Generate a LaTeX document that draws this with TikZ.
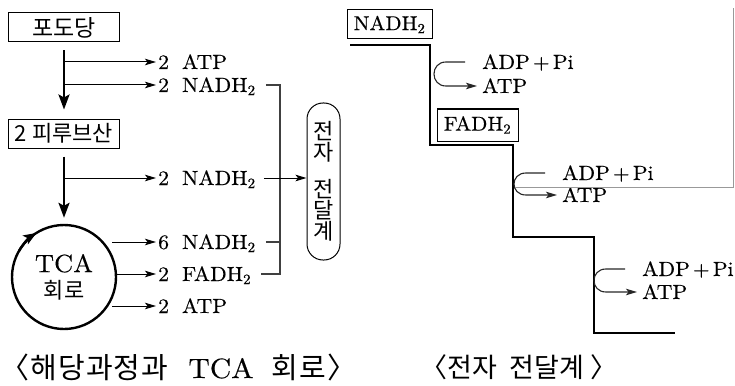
\documentclass[tikz,border=0pt]{standalone}
\usepackage{fontspec}
\setmainfont{lmroman10-regular.otf}[FakeBold=0.3, FakeStretch=1.06]
\newfontfamily\cjk{Noto Sans CJK KR}
\newfontfamily\cjkA[LetterSpace=4]{Noto Sans CJK KR}
\usetikzlibrary{arrows.meta,calc}
\begin{document}
\begin{tikzpicture}[x=1pt,y=-1pt,
  kbox/.style={draw, line width=1pt, inner sep=0, minimum width=111pt, minimum height=29pt},
  rbox/.style={draw, line width=1pt, inner sep=0, font=\fontsize{20}{20}\selectfont},
  lab/.style={inner sep=0, anchor=west, font=\fontsize{20.5}{20.5}\selectfont, text height=14pt, text depth=0pt},
  rlab/.style={inner sep=0, anchor=west, font=\fontsize{20.5}{20.5}\selectfont, text height=14pt, text depth=0pt},
  trunk/.style={line width=2.4pt, -{Stealth[length=15pt,width=11pt,inset=3pt]}},
  branch/.style={line width=1pt, -{Stealth[length=11pt,width=6.5pt,inset=2.5pt]}},
  brk/.style={line width=1.1pt, draw=black!75},
  stair/.style={line width=2.6pt},
  hook/.style={line width=1.1pt, draw=black!85, -{Stealth[length=11pt,width=6.5pt,inset=2.5pt]}},
  frame/.style={draw=black!40, line width=0.9pt}]
\useasboundingbox (0,0) rectangle (735,385);

% left: glycolysis and TCA
\node[kbox, font=\cjk\fontsize{23}{23}\selectfont] (glu) at (64,27.5) {포도당};
\node[kbox, font=\cjk\fontsize{22}{22}\selectfont] (pyr) at (64,133.5) {2 피루브산};
\node[circle, draw, line width=2.4pt, minimum size=104pt, inner sep=0, align=center,
      font=\fontsize{25}{26}\selectfont] (tca) at (64,277) {TCA\\{\cjk\fontsize{22}{22}\selectfont 회로}};
\coordinate (cx) at (112,0);

\node[lab] (atp1)  at (158,62)  {2\hspace{13pt}ATP};
\node[lab] (nadh1) at (158,85)  {2\hspace{13pt}NADH\textsubscript{2}};
\node[lab] (nadh2) at (158,178) {2\hspace{13pt}NADH\textsubscript{2}};
\node[lab] (nadh6) at (158,242) {6\hspace{13pt}NADH\textsubscript{2}};
\node[lab] (fadh)  at (158,274) {2\hspace{13pt}FADH\textsubscript{2}};
\node[lab] (atp2)  at (158,306) {2\hspace{13pt}ATP};

\draw[trunk] ([yshift=-8pt]glu.south) -- ([yshift=9pt]pyr.north);
\draw[trunk] ([yshift=-8pt]pyr.south) -- ([yshift=6pt]tca.north);
\draw[branch] (glu.south |- atp1.west) -- ([xshift=-2pt]atp1.west);
\draw[branch] (glu.south |- nadh1.west) -- ([xshift=-2pt]nadh1.west);
\draw[branch] (pyr.south |- nadh2.west) -- ([xshift=-2pt]nadh2.west);
\draw[branch] (cx |- nadh6.west) -- ([xshift=-2pt]nadh6.west);
\draw[branch] (tca.east |- fadh.west) -- ([xshift=-2pt]fadh.west);
\draw[branch] (cx |- atp2.west) -- ([xshift=-2pt]atp2.west);
\draw[line width=2.4pt, -{Stealth[length=13pt,width=10pt,inset=3pt]}]
  ($(tca.center)+(-150:52)$) arc (-150:-122:52);

% electron transport box and bracket
\node[draw, line width=1pt, rounded corners=16pt, minimum width=33pt, minimum height=157pt,
      inner sep=0, align=center, font=\cjk\fontsize{22}{21}\selectfont] (etc) at (323.5,181.5)
      {전\\자\\[16pt]전\\달\\계};
\coordinate (bx) at (280,0);
\draw[brk] ([xshift=10pt]nadh1.east) -- (nadh1.east -| bx) -- (fadh.east -| bx) -- ([xshift=10pt]fadh.east);
\draw[brk] ([xshift=10pt]nadh6.east) -- (nadh6.east -| bx);
\draw[branch] ([xshift=8pt]nadh2.east) -- (etc.west |- nadh2.east);

% right: electron transport chain
\node[rbox, minimum width=85pt, minimum height=29pt] (nb) at (389.5,24.5) {NADH\textsubscript{2}};
\node[rbox, minimum width=81pt, minimum height=32pt] (fb) at (477.5,125) {FADH\textsubscript{2}};
\draw[stair] (350,45) -- (430,45) -- (430,145) -- (513,145) -- (513,237) -- (594,237) -- (594,333) -- (675,333);

\node[rlab] (adpA) at (482,62)  {ADP\hspace{3pt}+\hspace{3pt}Pi};
\node[rlab] (atpA) at (482,86)  {ATP};
\node[rlab] (adpB) at (562,173) {ADP\hspace{3pt}+\hspace{3pt}Pi};
\node[rlab] (atpB) at (562,195) {ATP};
\node[rlab] (adpC) at (642,269) {ADP\hspace{3pt}+\hspace{3pt}Pi};
\node[rlab] (atpC) at (642,292) {ATP};

\foreach \a/\b in {adpA/atpA, adpB/atpB, adpC/atpC}{
  \draw[hook] ([xshift=-17pt]\a.west) -- ([xshift=-36pt]\a.west)
    .. controls ([xshift=-52pt]\a.west) and ([xshift=-52pt]\b.west) .. ([xshift=-36pt]\b.west)
    -- ([xshift=-5pt]\b.west);
}

\draw[frame] (515,187.5) -- (733.5,187.5) -- (733.5,8);

% captions
\node[anchor=west, inner sep=0, font=\fontsize{28}{28}\selectfont] (cap1) at (0,367)
  {{\cjkA\fontsize{29}{29}\selectfont 〈해당과정과}\hspace{20pt}TCA\hspace{18pt}{\cjkA\fontsize{29}{29}\selectfont 회로〉}};
\node[anchor=west, inner sep=0] (cap2) at (420,367)
  {\cjk\fontsize{27}{27}\selectfont 〈전자\hspace{13pt}전달계\hspace{6pt}〉};
\end{tikzpicture}
\end{document}
